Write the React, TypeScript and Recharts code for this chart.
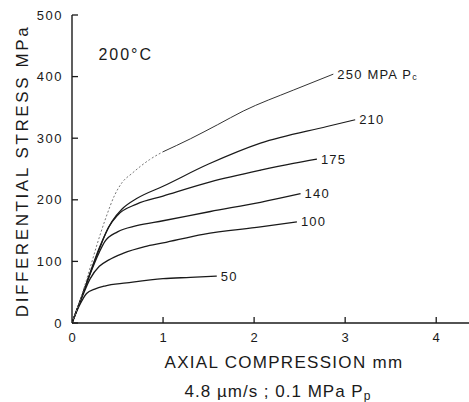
import React from 'react';
import { LineChart, Line, XAxis, YAxis, ReferenceDot } from 'recharts';

const xTicks = [0, 1, 2, 3, 4];
const yTicks = [0, 100, 200, 300, 400, 500];

const s50 = [
  { x: 0, y: 0 }, { x: 0.08, y: 28 }, { x: 0.16, y: 48 }, { x: 0.25, y: 55 }, { x: 0.36, y: 60 },
  { x: 0.6, y: 65 }, { x: 1.0, y: 72 }, { x: 1.3, y: 74 }, { x: 1.59, y: 76 },
];
const s100 = [
  { x: 0, y: 0 }, { x: 0.1, y: 38 }, { x: 0.2, y: 72 }, { x: 0.3, y: 92 }, { x: 0.4, y: 102 },
  { x: 0.56, y: 113 }, { x: 0.8, y: 124 }, { x: 1.0, y: 130 }, { x: 1.44, y: 144 },
  { x: 2.07, y: 156 }, { x: 2.47, y: 164 },
];
const s140 = [
  { x: 0, y: 0 }, { x: 0.1, y: 40 }, { x: 0.2, y: 80 }, { x: 0.3, y: 115 }, { x: 0.36, y: 132 },
  { x: 0.5, y: 148 }, { x: 0.71, y: 158 }, { x: 1.0, y: 166 }, { x: 1.52, y: 181 },
  { x: 2.07, y: 196 }, { x: 2.51, y: 210 },
];
const s175 = [
  { x: 0, y: 0 }, { x: 0.1, y: 40 }, { x: 0.2, y: 81 }, { x: 0.3, y: 120 }, { x: 0.4, y: 155 },
  { x: 0.5, y: 175 }, { x: 0.71, y: 193 }, { x: 1.0, y: 206 }, { x: 1.52, y: 229 },
  { x: 2.07, y: 248 }, { x: 2.43, y: 259 }, { x: 2.69, y: 266 },
];
const s210 = [
  { x: 0, y: 0 }, { x: 0.1, y: 40 }, { x: 0.2, y: 82 }, { x: 0.3, y: 122 }, { x: 0.44, y: 165 },
  { x: 0.55, y: 185 }, { x: 0.71, y: 202 }, { x: 1.0, y: 222 }, { x: 1.5, y: 258 },
  { x: 2.07, y: 292 }, { x: 2.8, y: 319 }, { x: 3.11, y: 330 },
];
const s250early = [
  { x: 0, y: 0 }, { x: 0.1, y: 42 }, { x: 0.2, y: 90 }, { x: 0.27, y: 125 }, { x: 0.37, y: 170 },
  { x: 0.47, y: 208 }, { x: 0.55, y: 228 }, { x: 0.66, y: 243 }, { x: 0.85, y: 265 }, { x: 1.0, y: 278 },
];
const s250late = [
  { x: 1.0, y: 278 }, { x: 1.3, y: 299 }, { x: 1.6, y: 322 }, { x: 1.88, y: 344 },
  { x: 2.43, y: 378 }, { x: 2.87, y: 404 },
];

const seriesLabels = ['50', '100', '140', '175', '210', '250 MPA P'];
const tempLabel = '200°C';
const xTitle = 'AXIAL COMPRESSION mm';
const xSub = '4.8 µm/s ; 0.1 MPa P';
const yTitle = 'DIFFERENTIAL STRESS MPa';

const FONT = '"Liberation Sans", Arial, sans-serif';
const INK = '#1a1a1a';

const YTick = (props: any) => {
  const { x, y, payload } = props;
  return (
    <g>
      <line x1={x} x2={x + 6} y1={y} y2={y} stroke={INK} strokeWidth={1.3} />
      <text x={x - 9} y={y} textAnchor="end" dominantBaseline="central" fontFamily={FONT} fontSize={13} letterSpacing={1.5} fill={INK}>
        {payload.value}
      </text>
    </g>
  );
};

const XTick = (props: any) => {
  const { x, y, payload } = props;
  return (
    <g>
      {payload.value !== 0 && <line x1={x} x2={x} y1={y} y2={y - 6} stroke={INK} strokeWidth={1.3} />}
      <text x={x} y={y + 14} textAnchor="middle" dominantBaseline="central" fontFamily={FONT} fontSize={13} fill={INK}>
        {payload.value}
      </text>
    </g>
  );
};

const endLabel = (text: string, len: number, sub?: string) => (props: any) => {
  const { x, y, index } = props;
  if (index !== len - 1) return null;
  return (
    <text x={x + 4} y={y} dominantBaseline="central" fontFamily={FONT} fontSize={13} letterSpacing={1.2} fill={INK}>
      {text}
      {sub ? <tspan fontSize={9} dy={3}>{sub}</tspan> : null}
    </text>
  );
};

const XTitle = (props: any) => {
  const vb = props.viewBox;
  const cx = vb.x + 212;
  return (
    <g fontFamily={FONT} fill={INK}>
      <text x={cx} y={vb.y + 45} textAnchor="middle" fontSize={17} letterSpacing={1.3}>{xTitle}</text>
      <text x={cx - 6} y={vb.y + 74} textAnchor="middle" fontSize={17} letterSpacing={1}>
        {xSub}
        <tspan fontSize={12} dy={3}>p</tspan>
      </text>
    </g>
  );
};

const YTitle = (props: any) => {
  const vb = props.viewBox;
  const cx = vb.x + 22;
  const cy = vb.y + vb.height / 2 + 2;
  return (
    <text x={cx} y={cy} textAnchor="middle" dominantBaseline="central" transform={`rotate(-90 ${cx} ${cy})`}
      fontFamily={FONT} fontSize={17} letterSpacing={2.6} fill={INK}>
      {yTitle}
    </text>
  );
};

const TempLabel = (props: any) => {
  const vb = props.viewBox;
  return (
    <text x={vb.cx ?? vb.x} y={vb.cy ?? vb.y} dominantBaseline="central" fontFamily={FONT} fontSize={16} letterSpacing={2} fill={INK}>
      {tempLabel}
    </text>
  );
};

export default function App() {
  return (
    <div style={{ position: 'absolute', left: 0, top: 0, background: '#fff' }}>
      <LineChart width={469} height={402} margin={{ top: 15, right: 0, left: 0, bottom: 0 }}>
        <XAxis
          type="number"
          dataKey="x"
          domain={[0, 4.36]}
          ticks={xTicks}
          allowDataOverflow
          height={79}
          tickSize={0}
          tickMargin={0}
          tick={<XTick />}
          axisLine={{ stroke: INK, strokeWidth: 1.4 }}
          label={<XTitle />}
        />
        <YAxis
          type="number"
          dataKey="y"
          domain={[0, 500]}
          ticks={yTicks}
          width={72}
          tickSize={0}
          tickMargin={0}
          tick={<YTick />}
          axisLine={{ stroke: INK, strokeWidth: 1.4 }}
          label={<YTitle />}
        />
        <Line data={s50} dataKey="y" type="monotone" stroke={INK} strokeWidth={1.3} dot={false} isAnimationActive={false} label={endLabel(seriesLabels[0], s50.length)} />
        <Line data={s100} dataKey="y" type="monotone" stroke={INK} strokeWidth={1.3} dot={false} isAnimationActive={false} label={endLabel(seriesLabels[1], s100.length)} />
        <Line data={s140} dataKey="y" type="monotone" stroke={INK} strokeWidth={1.3} dot={false} isAnimationActive={false} label={endLabel(seriesLabels[2], s140.length)} />
        <Line data={s175} dataKey="y" type="monotone" stroke={INK} strokeWidth={1.3} dot={false} isAnimationActive={false} label={endLabel(seriesLabels[3], s175.length)} />
        <Line data={s210} dataKey="y" type="monotone" stroke={INK} strokeWidth={1.2} dot={false} isAnimationActive={false} label={endLabel(seriesLabels[4], s210.length)} />
        <Line data={s250early} dataKey="y" type="monotone" stroke="#777" strokeWidth={1} strokeDasharray="2 2" dot={false} isAnimationActive={false} />
        <Line data={s250late} dataKey="y" type="monotone" stroke="#333" strokeWidth={1} dot={false} isAnimationActive={false} label={endLabel(seriesLabels[5], s250late.length, 'c')} />
        <ReferenceDot x={0.29} y={436} r={0} fill="none" stroke="none" label={<TempLabel />} />
      </LineChart>
    </div>
  );
}
